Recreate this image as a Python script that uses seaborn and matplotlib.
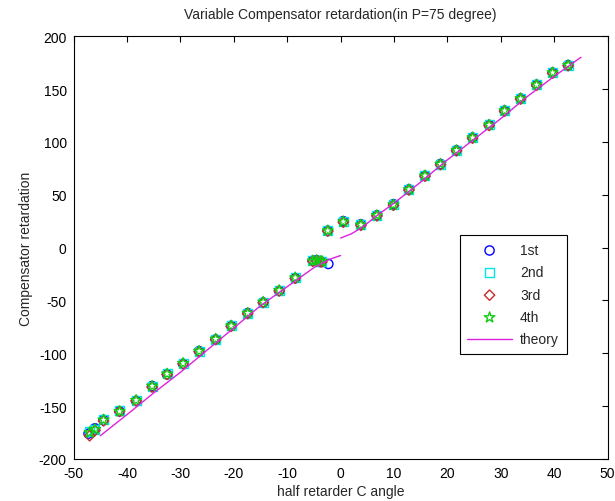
import numpy as np
import pandas as pd
import matplotlib
matplotlib.use("Agg")
import matplotlib.pyplot as plt
import seaborn as sns

# ---- data ----
x_common = [-47.0, -46.0, -44.4, -41.4, -38.3, -35.3, -32.5, -29.5, -26.5, -23.4,
            -20.5, -17.4, -14.5, -11.5, -8.5, -5.2, -4.5, -3.8, -3.5, -2.4,
            0.5, 3.8, 6.8, 9.9, 12.8, 15.8, 18.7, 21.7, 24.7, 27.8,
            30.7, 33.7, 36.7, 39.7, 42.6]
x_first = [-47.2, -46.0, -44.4, -41.4, -38.3, -35.3, -32.5, -29.5, -26.5, -23.4,
           -20.5, -17.4, -14.5, -11.5, -8.5, -5.2, -4.5, -3.8, -2.3, -2.4,
           0.5, 3.8, 6.8, 9.9, 12.8, 15.8, 18.7, 21.7, 24.7, 27.8,
           30.7, 33.7, 36.7, 39.7, 42.6]
y_first = [-176, -171, -163, -155, -145, -131, -120, -110, -98, -87,
           -74, -62, -52, -41, -29, -12.5, -12, -13, -15.5, 16,
           25, 22, 30.5, 41, 55, 68, 79, 92, 104, 116,
           129.5, 141, 154, 165.5, 172.5]
y_second = [-174, -172, -163, -154.5, -144.5, -131, -119.5, -109.5, -98, -86.5,
            -74, -62, -51.5, -40.5, -28.5, -12.5, -12, -13, -13, 16,
            24.5, 21.5, 30.5, 40.5, 55, 68, 79, 92, 104, 116,
            129.5, 141, 154, 165.5, 172.5]
y_third = [-178, -173, -164, -155, -145, -132, -120, -110, -98.5, -87,
           -74.5, -62.5, -52, -41, -29, -13, -12.5, -13.5, -13.5, 15.5,
           24, 21, 30, 40, 54.5, 67.5, 78.5, 91.5, 103.5, 115.5,
           129, 140.5, 153.5, 165, 172]
y_fourth = [-175, -172, -163, -155, -144.5, -131, -119.5, -109.5, -98, -86.5,
            -74, -62, -51.5, -40.5, -28.5, -12.5, -12, -13, -13, 16,
            24.5, 21.5, 30.5, 40.5, 55, 68, 79, 92, 104, 116,
            129.5, 141, 154, 165.5, 172.5]

theory_x_neg = [-45, -40, -35, -30, -25, -20, -15, -10, -5, -2, 0]
theory_y_neg = [-178, -158, -137.5, -118, -97, -76, -55, -37, -19, -11, -7.5]
theory_x_pos = [0, 2, 4, 7, 10, 15, 20, 25, 30, 35, 40, 45]
theory_y_pos = [9, 13, 19, 31, 42, 62, 83, 102.5, 122, 143, 162, 180]

title_text = "Variable Compensator retardation(in P=75 degree)"
xlabel_text = "half retarder C angle"
ylabel_text = "Compensator retardation"
x_ticks = [-50, -40, -30, -20, -10, 0, 10, 20, 30, 40, 50]
y_ticks = [-200, -150, -100, -50, 0, 50, 100, 150, 200]

# ---- style ----
sns.set_style("white")
plt.rcParams['font.family'] = ['Liberation Sans', 'DejaVu Sans']
plt.rcParams['font.size'] = 10
plt.rcParams['axes.unicode_minus'] = False

fig = plt.figure(figsize=(6.15, 5.02), dpi=100)
fig.patch.set_facecolor("white")
ax = fig.add_axes([0.1197, 0.0837, 0.8683, 0.8423])

series = [
    ("1st", x_first, y_first, "o", "#0000ff", 44),
    ("2nd", x_common, y_second, "s", "#00e5e5", 42),
    ("3rd", x_common, y_third, "D", "#cc2a2a", 28),
    ("4th", x_common, y_fourth, "*", "#11cc11", 64),
]
for name, xs, ys, mk, col, s in series:
    sns.scatterplot(x=xs, y=ys, marker=mk, s=s, facecolor="none",
                    edgecolor=col, linewidth=1.0, ax=ax, label=name, zorder=3)

sns.lineplot(x=theory_x_neg, y=theory_y_neg, color="#e020e0", linewidth=1.0,
             ax=ax, label="theory", sort=False, zorder=4)
sns.lineplot(x=theory_x_pos, y=theory_y_pos, color="#e020e0", linewidth=1.0,
             ax=ax, label="_nolegend_", sort=False, zorder=4)

ax.set_xlim(-50, 50)
ax.set_ylim(-200, 200)
ax.set_xticks(x_ticks)
ax.set_yticks(y_ticks)
ax.tick_params(direction="in", top=True, right=True, length=4, width=0.8,
               labelsize=10, pad=5, colors="black")
for sp in ax.spines.values():
    sp.set_visible(True)
    sp.set_color("black")
    sp.set_linewidth(0.8)

ax.set_title(title_text, fontsize=10, pad=13)
ax.set_xlabel(xlabel_text, fontsize=10, labelpad=3)
ax.set_ylabel(ylabel_text, fontsize=10, labelpad=4)

leg = ax.legend(loc="upper left", bbox_to_anchor=(0.71, 0.545), frameon=True,
                fancybox=False, edgecolor="black", framealpha=1,
                handlelength=3.2, handletextpad=0.6, borderpad=0.55,
                labelspacing=0.6, fontsize=10)
leg.get_frame().set_linewidth(0.8)

fig.savefig("out.png", dpi=100, facecolor="white")
